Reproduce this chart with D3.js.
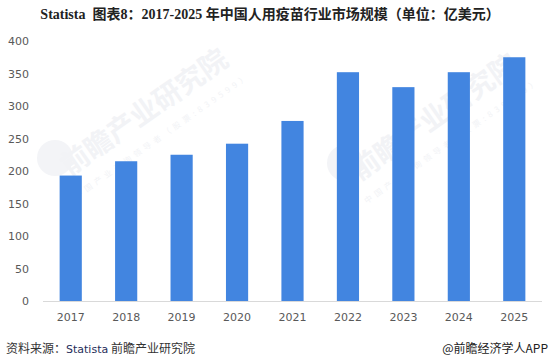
<!DOCTYPE html>
<html><head><meta charset="utf-8">
<script src="https://cdn.jsdelivr.net/npm/d3@7"></script>
<style>body{margin:0;background:#fff}svg{display:block}</style>
</head><body><svg id="c" width="554" height="359"></svg>
<script>
const years = ["2017","2018","2019","2020","2021","2022","2023","2024","2025"];
const values = [193, 215, 225, 242, 277, 352, 329, 352, 375];
const yTicks = [0,50,100,150,200,250,300,350,400];
const title = "Statista  图表8：2017-2025 年中国人用疫苗行业市场规模（单位：亿美元）";

const svg = d3.select("#c");
const x = d3.scaleBand().domain(years).range([43, 542]).paddingInner(0.6).paddingOuter(0.3);
const y = d3.scaleLinear().domain([0, 400]).range([301, 41]);

// watermark
const wm = svg.append("g").attr("fill", "#f2f3f6").attr("font-family", "Noto Sans CJK SC");
[[150, 120], [440, 125]].forEach(([cx, cy]) => {
  wm.append("circle").attr("cx", cx - 95).attr("cy", cy + 38).attr("r", 18).attr("fill", "#f3f4f7");
  wm.append("text").attr("transform", `translate(${cx},${cy}) rotate(-35)`).attr("text-anchor", "middle")
    .attr("font-size", 28).attr("font-weight", "bold").text("前瞻产业研究院");
  wm.append("text").attr("transform", `translate(${cx + 14},${cy + 18}) rotate(-35)`).attr("text-anchor", "middle")
    .attr("font-size", 8).attr("letter-spacing", 4).text("中国产业咨询领导者（股票:839599）");
});

// title
svg.append("text").attr("x", 270).attr("y", 19).attr("text-anchor", "middle").attr("xml:space", "preserve")
  .style("white-space", "pre")
  .attr("font-family", "'Liberation Serif','Noto Sans CJK SC'").attr("font-weight", "bold")
  .attr("font-size", 14).attr("fill", "#222").text(title);

// bars
svg.append("g").selectAll("rect").data(values).join("rect")
  .attr("x", (d, i) => x(years[i])).attr("width", x.bandwidth())
  .attr("y", d => y(d)).attr("height", d => y(0) - y(d)).attr("fill", "#4285e0");

// y axis
const ya = svg.append("g").attr("transform", "translate(29,0)")
  .call(d3.axisLeft(y).tickValues(yTicks).tickSize(0).tickPadding(0));
ya.select(".domain").remove();
ya.selectAll("text").attr("font-family", "'DejaVu Sans','Noto Sans'").attr("font-size", 11).attr("fill", "#595959");

// x axis
const xa = svg.append("g").attr("transform", `translate(0,${y(0)})`)
  .call(d3.axisBottom(x).tickSize(0).tickPadding(12));
xa.select(".domain").attr("stroke", "#d9d9d9").attr("d", "M43,0.5H542");
xa.selectAll("text").attr("font-family", "'DejaVu Sans','Noto Sans'").attr("font-size", 11).attr("fill", "#595959");

// footer
const ft = svg.append("text").attr("x", 6).attr("y", 353).attr("font-family", "'Noto Sans CJK SC'").attr("font-size", 12).attr("fill", "#333");
ft.append("tspan").text("资料来源：");
ft.append("tspan").attr("fill", "#1f2d5a").attr("font-family", "'DejaVu Sans'").attr("font-size", 11).text("Statista");
ft.append("tspan").text(" 前瞻产业研究院");
svg.append("text").attr("x", 548).attr("y", 353).attr("text-anchor", "end").attr("font-family", "'Noto Sans CJK SC'")
  .attr("font-size", 12).attr("fill", "#222").text("@前瞻经济学人APP");
</script></body></html>
